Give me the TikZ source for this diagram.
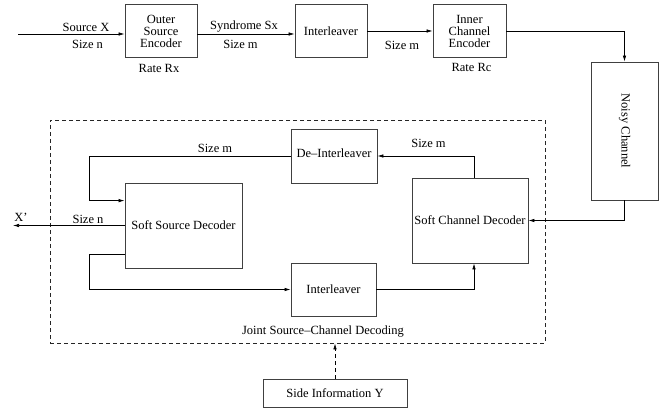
\documentclass[tikz,border=0pt]{standalone}
\usepackage{fontspec}
\setmainfont{Liberation Serif}
\usetikzlibrary{arrows.meta,calc}

\begin{document}
\begin{tikzpicture}[x=1pt,y=1pt,yscale=-1,xscale=1,
  >={Latex[length=6pt,width=3.5pt]},
  line width=0.7pt,
  blk/.style={draw=black!75,line width=0.8pt,rectangle,inner sep=0pt,align=center,font=\fontsize{12.5}{12}\selectfont},
  lbl/.style={inner sep=0pt,font=\fontsize{12.5}{14}\selectfont},
  dsh/.style={dash pattern=on 4pt off 3pt}]
\useasboundingbox (0,0) rectangle (672,409);

%Shape: Rectangle [outer encoder]
\node[blk,minimum width=72pt,minimum height=53pt] (outer) at (161,31) {Outer\\Source\\Encoder};
%Shape: Rectangle [interleaver]
\node[blk,minimum width=72pt,minimum height=53pt] (ilv) at (331,31) {Interleaver};
%Shape: Rectangle [inner encoder]
\node[blk,minimum width=73pt,minimum height=53pt] (inner) at (469.5,31) {Inner\\Channel\\Encoder};
%Shape: Rectangle [channel]
\node[blk,minimum width=67pt,minimum height=138pt] (noisy) at (624.5,131) {};
\node[lbl,rotate=-90] (noisytxt) at (noisy.center) {Noisy Channel};

%Shape: Rectangle [joint decoding]
\node[draw=black!85,dsh,line width=0.8pt,minimum width=495pt,minimum height=223pt,inner sep=0pt] (jbox) at (297.5,231.5) {};
%Shape: Rectangle [channel decoder]
\node[blk,minimum width=116pt,minimum height=85pt] (scd) at (470,220.5) {Soft Channel Decoder};
%Shape: Rectangle [de-interleaver]
\node[blk,minimum width=86pt,minimum height=54pt] (deint) at (334,156) {};
\node[lbl] (deinttxt) at (334,153) {De--Interleaver};
%Shape: Rectangle [source decoder]
\node[blk,minimum width=117pt,minimum height=85pt] (ssd) at (183.5,225.5) {Soft Source Decoder};
%Shape: Rectangle [interleaver 2]
\node[blk,minimum width=85pt,minimum height=53pt] (ilow) at (333.5,289.5) {Interleaver};
%Shape: Rectangle [side info]
\node[blk,minimum width=144pt,minimum height=28pt] (side) at (335,393) {Side Information Y};

%Straight Lines [encoder chain]
\coordinate (srcin) at (18,34);
\draw[->] (srcin) -- (srcin -| outer.west);
\draw[->] (outer.east |- srcin) -- (ilv.west |- srcin);
\draw[->] (ilv.east) -- (inner.west);
\draw[->] (inner.east) -| (noisy.north);
\draw[->] (noisy.south) |- (scd.east);

%Straight Lines [decoder loop]
\draw[->] ([xshift=4pt]scd.north) |- (deint.east);
\draw[->] (deint.west) -- ++(-201,0) |- ($(ssd.north west)!0.21!(ssd.south west)$);
\draw[->] ($(ssd.north west)!0.84!(ssd.south west)$) -- ++(-35,0) |- (ilow.west);
\draw[->] (ilow.east) -| ([xshift=4pt]scd.south);
\coordinate (xout) at (13,227);
\draw[->] (ssd.west) -- (ssd.west -| xout);
\draw[->,dsh] (side.north) -- (side.north |- jbox.south);

% Text Node
\node[lbl] (srcx) at (86,27) {Source X};
% Text Node
\node[lbl] (sizen) at (87.5,44) {Size n};
% Text Node
\node[lbl] (ratex) at (159,68) {Rate Rx};
% Text Node
\node[lbl] (synd) at (244,27) {Syndrome Sx};
% Text Node
\node[lbl] (sizem) at (240.5,44) {Size m};
% Text Node
\node[lbl] (sizem2) at (402,45) {Size m};
% Text Node
\node[lbl] (ratec) at (471.5,67) {Rate Rc};
% Text Node
\node[lbl] (sizem3) at (428.5,143) {Size m};
% Text Node
\node[lbl] (sizem4) at (215,148) {Size m};
% Text Node
\node[lbl] (sizen2) at (88,219) {Size n};
% Text Node
\node[lbl] (xhat) at (21,217) {X'};
% Text Node
\node[lbl] (jlbl) at (323,332) {Joint Source--Channel Decoding};

\end{tikzpicture}
\end{document}
